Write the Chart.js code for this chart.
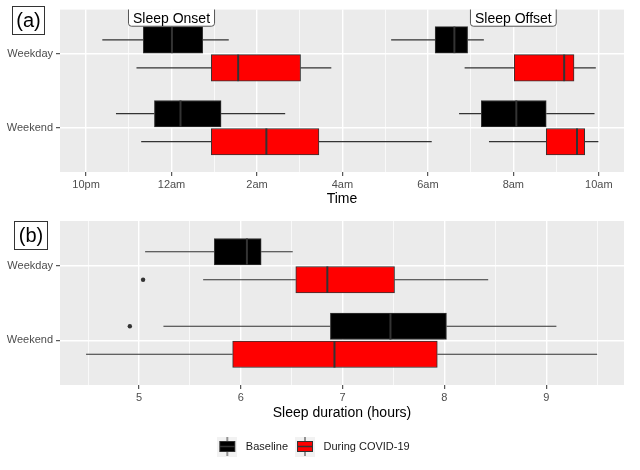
<!DOCTYPE html>
<html>
<head>
<meta charset="utf-8">
<script src="https://cdn.jsdelivr.net/npm/chart.js@4.4.1/dist/chart.umd.min.js"></script>
<style>
  body { margin: 0; background: #fff; }
  #wrap { position: relative; width: 640px; height: 470px; }
  canvas { position: absolute; left: 0; }
  #chartA { top: 0; }
  #chartB { top: 210px; }
</style>
</head>
<body>
<div id="wrap">
  <canvas id="chartA" width="640" height="210"></canvas>
  <canvas id="chartB" width="640" height="260"></canvas>
</div>
<script>
const categories = ['Weekday', 'Weekend'];
const groups = ['Baseline', 'During COVID-19'];

// (a) clock time, hours from midnight: [min, q1, median, q3, max]
const onsetBaseline = [[-1.62, -0.66, 0.01, 0.73, 1.34], [-1.30, -0.40, 0.21, 1.16, 2.66]];
const onsetCovid = [[-0.82, 0.93, 1.56, 3.02, 3.74], [-0.71, 0.93, 2.22, 3.45, 6.09]];
const offsetBaseline = [[5.14, 6.17, 6.62, 6.93, 7.31], [6.73, 7.25, 8.07, 8.77, 9.90]];
const offsetCovid = [[6.86, 8.02, 9.19, 9.42, 9.93], [7.43, 8.77, 9.49, 9.67, 9.99]];
const timeTicks = [-2, 0, 2, 4, 6, 8, 10];
const timeLabels = ['10pm', '12am', '2am', '4am', '6am', '8am', '10am'];
const phaseLabels = ['Sleep Onset', 'Sleep Offset'];
const phaseLabelAt = [0, 8];

// (b) sleep duration in hours
const durationBaseline = [[5.06, 5.74, 6.06, 6.20, 6.51], [5.24, 6.88, 7.47, 8.02, 9.10]];
const durationCovid = [[5.63, 6.54, 6.85, 7.51, 8.43], [4.48, 5.92, 6.92, 7.93, 9.50]];
const outliersBaseline = [[], [4.91]];
const outliersCovid = [[5.04], []];
const durationTicks = [5, 6, 7, 8, 9];

Chart.defaults.font.family = '"Liberation Sans", Arial, sans-serif';
Chart.defaults.animation = false;

const FILLS = ['#000000', '#FF0000'];
const INK = '#333333';

function toBars(stats) {
  return stats.map((s, i) => ({ x: [s[1], s[3]], y: i, stats: s }));
}

const panelBg = {
  id: 'panelBg',
  beforeDraw(chart) {
    const { ctx, chartArea: a } = chart;
    ctx.save();
    ctx.fillStyle = '#EBEBEB';
    ctx.fillRect(a.left, a.top, a.width, a.height);
    ctx.restore();
  }
};

function drawBoxParts(chart, part) {
  const { ctx } = chart;
  const xs = chart.scales.x;
  ctx.save();
  ctx.strokeStyle = INK;
  ctx.fillStyle = INK;
  chart.data.datasets.forEach((ds, di) => {
    chart.getDatasetMeta(di).data.forEach((bar, j) => {
      const s = ds.data[j].stats;
      const { y, height } = bar.getProps(['y', 'height'], true);
      if (part === 'whisker') {
        ctx.lineWidth = 1.2;
        ctx.beginPath();
        ctx.moveTo(xs.getPixelForValue(s[0]), y);
        ctx.lineTo(xs.getPixelForValue(s[1]), y);
        ctx.moveTo(xs.getPixelForValue(s[3]), y);
        ctx.lineTo(xs.getPixelForValue(s[4]), y);
        ctx.stroke();
      } else {
        const m = xs.getPixelForValue(s[2]);
        ctx.lineWidth = 2;
        ctx.beginPath();
        ctx.moveTo(m, y - height / 2);
        ctx.lineTo(m, y + height / 2);
        ctx.stroke();
        const outs = ds.outliers ? ds.outliers[j] : [];
        outs.forEach(v => {
          ctx.beginPath();
          ctx.arc(xs.getPixelForValue(v), y, 2.2, 0, Math.PI * 2);
          ctx.fill();
        });
      }
    });
  });
  ctx.restore();
}

const boxParts = {
  id: 'boxParts',
  beforeDatasetsDraw(chart) { drawBoxParts(chart, 'whisker'); },
  afterDatasetsDraw(chart) { drawBoxParts(chart, 'median'); }
};

// "(a)" / "(b)" tags and the grey-bordered labels in panel (a)
const extras = {
  id: 'extras',
  afterDraw(chart, args, opts) {
    const { ctx, chartArea: a } = chart;
    ctx.save();
    if (opts.tag) {
      const [x, y, w, h] = opts.tagBox;
      ctx.fillStyle = '#fff';
      ctx.fillRect(x, y, w, h);
      ctx.strokeStyle = '#333';
      ctx.lineWidth = 1;
      ctx.strokeRect(x + 0.5, y + 0.5, w, h);
      ctx.fillStyle = '#000';
      ctx.font = '20px "Liberation Sans", Arial, sans-serif';
      ctx.textAlign = 'center';
      ctx.textBaseline = 'middle';
      ctx.fillText(opts.tag, x + w / 2 + 0.5, y + h / 2 + 1);
    }
    if (opts.labels) {
      ctx.beginPath();
      ctx.rect(a.left, a.top, a.width, a.height);
      ctx.clip();
      ctx.font = '14px "Liberation Sans", Arial, sans-serif';
      ctx.textAlign = 'center';
      ctx.textBaseline = 'middle';
      const yPix = chart.scales.y.getPixelForValue(opts.labelY);
      opts.labels.forEach((t, i) => {
        const cx = chart.scales.x.getPixelForValue(opts.labelAt[i]);
        const w = ctx.measureText(t).width + 9;
        ctx.beginPath();
        ctx.roundRect(cx - w / 2, yPix - 12, w, 20.5, 3);
        ctx.fillStyle = '#fff';
        ctx.fill();
        ctx.strokeStyle = '#555';
        ctx.lineWidth = 1;
        ctx.stroke();
        ctx.fillStyle = '#000';
        ctx.fillText(t, cx, yPix + 1);
      });
    }
    ctx.restore();
  }
};

function keyIcon(fill) {
  const c = document.createElement('canvas');
  c.width = 20; c.height = 21;
  const g = c.getContext('2d');
  g.fillStyle = '#F2F2F2';
  g.fillRect(0, 0, 20, 21);
  g.strokeStyle = INK;
  g.lineWidth = 1;
  g.beginPath();
  g.moveTo(10, 1); g.lineTo(10, 5);
  g.moveTo(10, 16); g.lineTo(10, 20);
  g.stroke();
  g.fillStyle = fill;
  g.fillRect(2, 5, 16, 11);
  g.strokeRect(2.5, 5.5, 15, 10);
  g.lineWidth = 1.5;
  g.beginPath();
  g.moveTo(2, 10.5); g.lineTo(18, 10.5);
  g.stroke();
  return c;
}

function barDataset(i, data, outliers) {
  return {
    label: groups[i],
    data: data,
    outliers: outliers,
    backgroundColor: FILLS[i],
    borderColor: INK,
    borderWidth: 1,
    borderSkipped: false,
    barThickness: 28,
    maxBarThickness: 26.5
  };
}

function yAxis() {
  return {
    type: 'linear',
    reverse: true,
    offset: false,
    min: -0.6,
    max: 1.6,
    afterBuildTicks: s => { s.ticks = categories.map((c, i) => ({ value: i })); },
    afterFit: s => { s.width = 60; },
    ticks: {
      callback: v => categories[v],
      color: '#4D4D4D',
      font: { size: 11 },
      padding: 3
    },
    grid: { offset: false, color: '#FFFFFF', lineWidth: 1.4, tickColor: INK, tickLength: 4, tickWidth: 1 },
    border: { display: false }
  };
}

function xAxis(min, max, gridVals, isMajor, label, title, height, titlePad) {
  return {
    type: 'linear',
    min: min,
    max: max,
    afterBuildTicks: s => { s.ticks = gridVals.map(v => ({ value: v })); },
    afterFit: s => { s.height = height; },
    ticks: {
      autoSkip: false,
      maxRotation: 0,
      callback: v => isMajor(v) ? label(v) : '',
      color: '#4D4D4D',
      font: { size: 11 },
      padding: 2
    },
    grid: {
      color: '#FFFFFF',
      lineWidth: c => isMajor(c.tick.value) ? 1.4 : 0.7,
      tickColor: c => isMajor(c.tick.value) ? INK : 'rgba(0,0,0,0)',
      tickLength: 4,
      tickWidth: 1
    },
    border: { display: false },
    title: {
      display: true,
      text: title,
      color: '#000',
      font: { size: 14 },
      padding: { top: 0, bottom: titlePad }
    }
  };
}

const hourGrid = [];
for (let h = -2; h <= 10; h++) hourGrid.push(h);
const durationGrid = [];
for (let d = 4.5; d <= 9.5; d += 0.5) durationGrid.push(d);

new Chart(document.getElementById('chartA'), {
  type: 'bar',
  data: {
    datasets: [
      barDataset(0, [...toBars(onsetBaseline), ...toBars(offsetBaseline)]),
      barDataset(1, [...toBars(onsetCovid), ...toBars(offsetCovid)])
    ]
  },
  options: {
    indexAxis: 'y',
    responsive: false,
    layout: { padding: { top: 7, right: 16, left: 0, bottom: 0 } },
    scales: {
      x: xAxis(-2.61, 10.59, hourGrid, v => v % 2 === 0,
        v => timeLabels[timeTicks.indexOf(v)], 'Time', 38, 2),
      y: yAxis()
    },
    plugins: {
      legend: { display: false },
      tooltip: { enabled: false },
      extras: {
        tag: '(a)', tagBox: [12, 6, 32, 28],
        labels: phaseLabels, labelAt: phaseLabelAt, labelY: -0.49
      }
    }
  },
  plugins: [panelBg, boxParts, extras]
});

new Chart(document.getElementById('chartB'), {
  type: 'bar',
  data: {
    datasets: [
      barDataset(0, toBars(durationBaseline), outliersBaseline),
      barDataset(1, toBars(durationCovid), outliersCovid)
    ]
  },
  options: {
    indexAxis: 'y',
    responsive: false,
    layout: { padding: { top: 11, right: 16, left: 0, bottom: 8 } },
    scales: {
      x: xAxis(4.224, 9.764, durationGrid, v => Number.isInteger(v),
        v => String(v), 'Sleep duration (hours)', 52, 15),
      y: yAxis()
    },
    plugins: {
      legend: {
        position: 'bottom',
        labels: {
          usePointStyle: true,
          pointStyleWidth: 26,
          padding: 4,
          color: '#1A1A1A',
          font: { size: 11 },
          generateLabels: chart => {
            const items = Chart.defaults.plugins.legend.labels.generateLabels(chart);
            items.forEach((it, i) => { it.pointStyle = keyIcon(FILLS[i]); });
            return items;
          }
        }
      },
      tooltip: { enabled: false },
      extras: { tag: '(b)', tagBox: [14, 221 - 210, 33, 28] }
    }
  },
  plugins: [panelBg, boxParts, extras]
});
</script>
</body>
</html>
